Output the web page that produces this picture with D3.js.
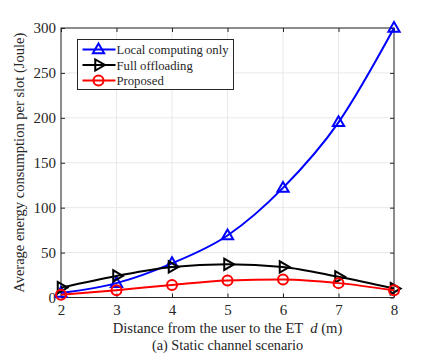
<html>
<head>
<meta charset="utf-8">
<script src="https://d3js.org/d3.v7.min.js"></script>
<style>
  body { margin: 0; background: #fff; }
</style>
</head>
<body>
<div id="chart"></div>
<script>

var distances = [2, 3, 4, 5, 6, 7, 8];
var localOnly = [5, 16, 38, 69, 122, 195, 300];
var fullOffload = [11, 24, 34, 37, 34, 23, 10];
var proposed = [3, 8, 14, 19, 20, 16, 8];
var yTicks = [0, 50, 100, 150, 200, 250, 300];

var series = [
  {name: "Local computing only", values: localOnly, color: "#0000ff", marker: "tri"},
  {name: "Full offloading", values: fullOffload, color: "#000000", marker: "right"},
  {name: "Proposed", values: proposed, color: "#ff0000", marker: "circle"}
];

var serif = "Liberation Serif";

var margin = {top: 28, right: 42, bottom: 59, left: 61};
var width = 436 - margin.left - margin.right;
var height = 357 - margin.top - margin.bottom - 0.5;

var svg = d3.select("#chart")
  .append("svg")
    .attr("width", 436)
    .attr("height", 357)
    .attr("font-family", serif)
  .append("g")
    .attr("transform", "translate(" + margin.left + "," + margin.top + ")");

var x = d3.scaleLinear().domain([2, 8]).range([0, width]);
var y = d3.scaleLinear().domain([0, 300]).range([height, 0]);

// grid
svg.append("g").selectAll("line")
  .data(distances)
  .enter().append("line")
    .attr("x1", function(d) { return x(d); })
    .attr("x2", function(d) { return x(d); })
    .attr("y1", 0).attr("y2", height)
    .attr("stroke", "#e8e8e8").attr("stroke-width", 1);
svg.append("g").selectAll("line")
  .data(yTicks)
  .enter().append("line")
    .attr("y1", function(d) { return y(d); })
    .attr("y2", function(d) { return y(d); })
    .attr("x1", 0).attr("x2", width)
    .attr("stroke", "#e8e8e8").attr("stroke-width", 1);

// axes (ticks inside, mirrored)
function styleAxis(g) {
  g.attr("font-family", serif).attr("font-size", 15);
  g.select(".domain").remove();
  g.selectAll("line").attr("stroke", "#262626");
  g.selectAll("text")
    .attr("font-family", serif)
    .attr("font-size", 15)
    .attr("fill", "#262626");
}
svg.append("g")
  .attr("transform", "translate(0," + height + ")")
  .call(d3.axisBottom(x).tickValues(distances).tickFormat(d3.format("d")).tickSizeInner(-4).tickSizeOuter(0).tickPadding(7))
  .call(styleAxis);
svg.append("g")
  .call(d3.axisTop(x).tickValues(distances).tickFormat("").tickSizeInner(-4).tickSizeOuter(0))
  .call(styleAxis);
svg.append("g")
  .call(d3.axisLeft(y).tickValues(yTicks).tickSizeInner(-4).tickSizeOuter(0).tickPadding(5))
  .call(styleAxis);
svg.append("g")
  .attr("transform", "translate(" + width + ",0)")
  .call(d3.axisRight(y).tickValues(yTicks).tickFormat("").tickSizeInner(-4).tickSizeOuter(0))
  .call(styleAxis);

svg.append("rect")
  .attr("width", width).attr("height", height)
  .attr("fill", "none").attr("stroke", "#262626").attr("stroke-width", 1);

// lines + markers
var line = d3.line()
  .x(function(d, i) { return x(distances[i]); })
  .y(function(d) { return y(d); })
  .curve(d3.curveMonotoneX);

var triSym = d3.symbol().type(d3.symbolTriangle).size(55);

function drawMarker(g, kind, color) {
  if (kind === "circle") {
    g.append("circle").attr("r", 5).attr("fill", "none").attr("stroke", color).attr("stroke-width", 2);
  } else if (kind === "tri") {
    g.append("path").attr("d", triSym()).attr("transform", "translate(0,0.5)")
      .attr("fill", "none").attr("stroke", color).attr("stroke-width", 2);
  } else {
    g.append("path").attr("d", triSym()).attr("transform", "rotate(90)")
      .attr("fill", "none").attr("stroke", color).attr("stroke-width", 2);
  }
}

series.forEach(function(s) {
  svg.append("path")
    .datum(s.values)
    .attr("d", line)
    .attr("fill", "none")
    .attr("stroke", s.color)
    .attr("stroke-width", 2);
  s.values.forEach(function(v, i) {
    var g = svg.append("g").attr("transform", "translate(" + x(distances[i]) + "," + y(v) + ")");
    drawMarker(g, s.marker, s.color);
  });
});

// legend
var legend = svg.append("g").attr("transform", "translate(16.5,11.5)");
legend.append("rect")
  .attr("width", 156).attr("height", 50)
  .attr("fill", "#fff").attr("stroke", "#262626").attr("stroke-width", 1);
series.forEach(function(s, i) {
  var ly = 10 + i * 15.5;
  legend.append("line").attr("x1", 5).attr("x2", 38).attr("y1", ly).attr("y2", ly)
    .attr("stroke", s.color).attr("stroke-width", 2);
  var g = legend.append("g").attr("transform", "translate(21," + ly + ")");
  drawMarker(g, s.marker, s.color);
  legend.append("text").attr("x", 39).attr("y", ly + 4.5)
    .attr("font-family", serif)
    .attr("font-size", 12.7).attr("fill", "#262626").text(s.name);
});

// labels
var xl = svg.append("text")
  .attr("x", width / 2).attr("y", height + 35)
  .attr("text-anchor", "middle")
  .attr("fill", "#262626")
  .attr("font-family", serif)
  .attr("font-size", 14.6);
xl.append("tspan").text("Distance from the user to the ET");
xl.append("tspan").attr("dx", 7).attr("font-style", "italic").text("d");
xl.append("tspan").text(" (m)");

svg.append("text")
  .attr("x", width / 2).attr("y", height + 52)
  .attr("text-anchor", "middle")
  .attr("fill", "#262626")
  .attr("font-family", serif)
  .attr("font-size", 14.3)
  .text("(a) Static channel scenario");

svg.append("text")
  .attr("transform", "translate(-37," + (height / 2) + ") rotate(-90)")
  .attr("text-anchor", "middle")
  .attr("fill", "#262626")
  .attr("font-family", serif)
  .attr("font-size", 14.5)
  .text("Average energy consumption per slot (Joule)");

</script>
</body>
</html>
